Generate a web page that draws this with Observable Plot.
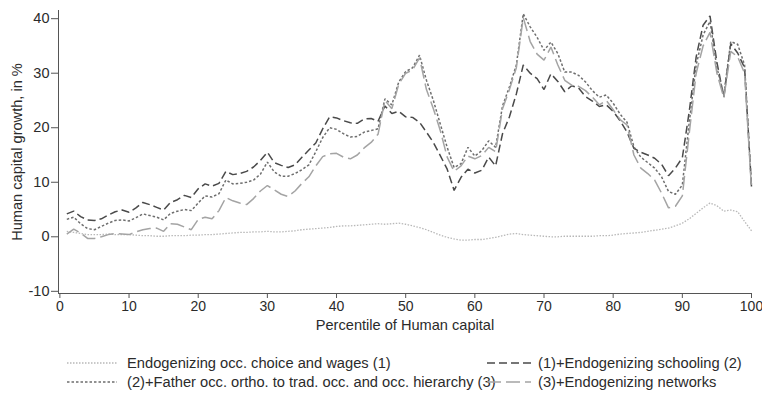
<!DOCTYPE html>
<html><head><meta charset="utf-8">
<script src="https://cdn.jsdelivr.net/npm/d3@7"></script>
<script src="https://cdn.jsdelivr.net/npm/@observablehq/plot@0.6"></script>
<style>
body{margin:0;background:#fff;font-family:"Liberation Sans",Arial,sans-serif;}
#chart{position:relative;width:762px;height:394px;overflow:hidden;}
.legend{position:absolute;left:0;top:345px;width:762px;height:49px;font-size:14.7px;color:#2b2b2b;}
.item{position:absolute;height:16px;white-space:nowrap;}
.item svg{position:absolute;top:0;}
.item span{position:absolute;top:0;line-height:16px;}
</style></head><body><div id="chart"></div>
<script>
const percentile = d3.range(1, 101);
const seriesNames = [
  "Endogenizing occ. choice and wages (1)",
  "(1)+Endogenizing schooling (2)",
  "(2)+Father occ. ortho. to trad. occ. and occ. hierarchy (3)",
  "(3)+Endogenizing networks"
];
const occChoice = [1.0,0.8,0.6,0.4,0.4,0.4,0.5,0.4,0.4,0.4, 0.3,0.2,0.2,0.1,0.1,0.2,0.2,0.2,0.3,0.3,
  0.4,0.4,0.5,0.6,0.7,0.8,0.8,0.9,0.9,1.0, 0.9,0.9,1.0,1.1,1.3,1.4,1.5,1.6,1.7,1.9,
  2.0,2.0,2.1,2.2,2.3,2.4,2.3,2.4,2.5,2.3, 2.0,1.7,1.3,0.8,0.3,-0.1,-0.4,-0.6,-0.6,-0.5,
  -0.5,-0.3,-0.1,0.2,0.5,0.6,0.4,0.3,0.2,0.1, 0.0,0.0,0.1,0.1,0.1,0.1,0.1,0.2,0.2,0.3,
  0.5,0.6,0.7,0.8,1.0,1.2,1.4,1.6,2.0,2.5, 3.3,4.3,5.3,6.2,5.7,4.7,4.9,4.6,2.8,1.1];
const schooling = [4.2,4.7,3.7,3.1,3.0,3.3,4.0,4.6,4.9,4.5, 5.3,6.3,5.9,5.4,4.9,6.3,6.8,7.6,7.2,8.8,
  9.7,9.3,9.8,12.0,11.4,11.6,12.0,12.8,14.0,15.5, 13.6,13.1,12.7,13.2,14.6,15.9,17.2,19.8,22.0,21.8,
  21.3,20.9,20.8,21.6,21.7,21.2,24.0,22.6,23.0,22.0, 21.9,21.0,19.2,17.3,14.9,12.4,8.5,10.9,12.4,11.7,
  12.2,14.6,13.0,18.9,22.0,26.2,31.5,30.0,29.0,27.0, 29.9,28.5,26.6,27.7,27.3,25.7,24.9,23.9,24.2,23.0,
  21.3,19.2,16.2,15.5,15.0,14.4,13.3,11.2,12.6,14.5, 23.0,33.0,38.8,40.5,32.0,25.6,35.4,33.7,31.0,9.2];
const fatherOcc = [3.2,3.6,2.4,1.5,1.3,1.9,2.5,3.0,3.1,2.9, 3.5,4.2,3.9,3.6,3.1,4.3,4.7,5.0,4.8,6.2,
  7.5,7.3,7.9,10.4,9.7,9.8,10.0,10.4,11.5,13.7, 11.9,11.1,11.1,11.6,12.3,13.2,15.6,18.2,20.0,19.7,
  18.9,18.3,18.4,19.2,19.5,19.8,25.3,24.2,28.4,30.3, 31.0,33.3,28.7,25.0,20.7,16.4,12.7,13.4,16.4,14.8,
  15.8,17.6,16.4,24.0,27.5,31.5,40.9,38.5,36.6,34.2, 35.7,33.6,30.2,30.2,29.6,28.4,26.8,25.6,26.0,24.5,
  22.5,21.0,16.5,14.6,13.6,12.6,11.0,8.3,7.8,9.5, 21.0,31.5,37.0,39.5,31.0,26.0,35.8,35.3,31.5,9.2];
const networks = [0.5,1.4,0.7,-0.3,-0.3,0.0,0.4,0.6,0.5,0.4, 0.9,1.3,1.5,1.6,1.0,2.4,2.3,1.8,1.3,3.2,
  3.6,3.3,4.8,7.2,6.6,6.2,5.9,7.0,8.4,9.4, 8.6,7.8,7.4,8.4,9.8,11.0,13.0,14.7,15.2,15.3,
  14.6,14.3,15.0,16.3,17.3,18.8,25.0,23.5,28.0,30.0, 30.6,32.8,27.0,23.5,19.5,14.6,12.0,13.0,14.8,14.3,
  14.9,16.4,15.6,23.5,27.0,31.0,40.2,35.8,33.5,32.4, 34.8,31.5,28.7,27.8,27.6,26.8,25.6,24.2,25.0,23.3,
  21.5,20.5,15.0,12.6,11.6,10.4,8.0,5.3,5.6,7.5, 19.0,30.0,35.0,37.5,30.0,25.5,34.0,33.0,30.0,8.8];
const xTicks = [0,10,20,30,40,50,60,70,80,90,100];
const yTicks = [-10,0,10,20,30,40];
const xLabel = "Percentile of Human capital";
const yLabel = "Human capital growth, in %";

const styles = [
  {stroke:"#b8b8b8", width:1.3, dash:"1.5,1.5"},
  {stroke:"#4a4a4a", width:1.5, dash:"8,4"},
  {stroke:"#6e6e6e", width:1.5, dash:"2.5,2"},
  {stroke:"#a4a4a4", width:1.5, dash:"14,5"}
];
const seriesValues = [occChoice, schooling, fatherOcc, networks];
const data = [];
seriesValues.forEach((vals, i) => vals.forEach((v, j) => data.push({p: percentile[j], v, s: i})));

const xDomain = [-0.2, 100];
const yDomain = [-10.4, 41.5];
const fmt = d => String(d);

const chart = Plot.plot({
  width: 762, height: 345,
  marginLeft: 58, marginRight: 11, marginTop: 10, marginBottom: 52,
  style: {fontFamily: "'Liberation Sans', Arial, sans-serif", fontSize: "14px", color: "#2b2b2b", background: "#fff"},
  x: {domain: xDomain},
  y: {domain: yDomain},
  marks: [
    Plot.ruleX([xDomain[0]], {stroke: "#555", strokeWidth: 1}),
    Plot.ruleY([yDomain[0]], {stroke: "#555", strokeWidth: 1}),
    Plot.axisX({ticks: xTicks, tickSize: 5, tickPadding: 3, stroke: "#555", label: null, fontSize: 14, tickFormat: fmt}),
    Plot.axisY({ticks: yTicks, tickSize: 7, tickPadding: 2, stroke: "#555", label: null, fontSize: 14.5, tickFormat: fmt}),
    ...seriesValues.map((_, i) => Plot.line(data.filter(d => d.s === i), {
      x: "p", y: "v", stroke: styles[i].stroke, strokeWidth: styles[i].width,
      strokeDasharray: styles[i].dash, strokeLinejoin: "miter", strokeLinecap: "butt"
    })),
    Plot.text([xLabel], {frameAnchor: "bottom", dy: 36, text: d => d, fontSize: 14.6, fill: "#2b2b2b", textAnchor: "middle"}),
    Plot.text([yLabel], {frameAnchor: "left", dx: -41, rotate: -90, text: d => d, fontSize: 14.6, fill: "#2b2b2b", textAnchor: "middle"})
  ]
});
const host = document.getElementById("chart");
host.appendChild(chart);

const legend = document.createElement("div");
legend.className = "legend";
const layout = [
  {left: 67, top: 10, sw: 50, tx: 60},
  {left: 487, top: 10, sw: 44, tx: 51},
  {left: 67, top: 29, sw: 50, tx: 60},
  {left: 487, top: 29, sw: 44, tx: 51}
];
seriesNames.forEach((name, i) => {
  const L = layout[i], st = styles[i];
  const it = document.createElement("div");
  it.className = "item";
  it.style.left = L.left + "px"; it.style.top = L.top + "px";
  it.innerHTML = `<svg width="${L.sw}" height="16"><line x1="0" x2="${L.sw}" y1="8" y2="8" stroke="${st.stroke}" stroke-width="${st.width}" stroke-dasharray="${st.dash}"/></svg><span style="left:${L.tx}px">${name}</span>`;
  legend.appendChild(it);
});
host.appendChild(legend);
</script></body></html>
